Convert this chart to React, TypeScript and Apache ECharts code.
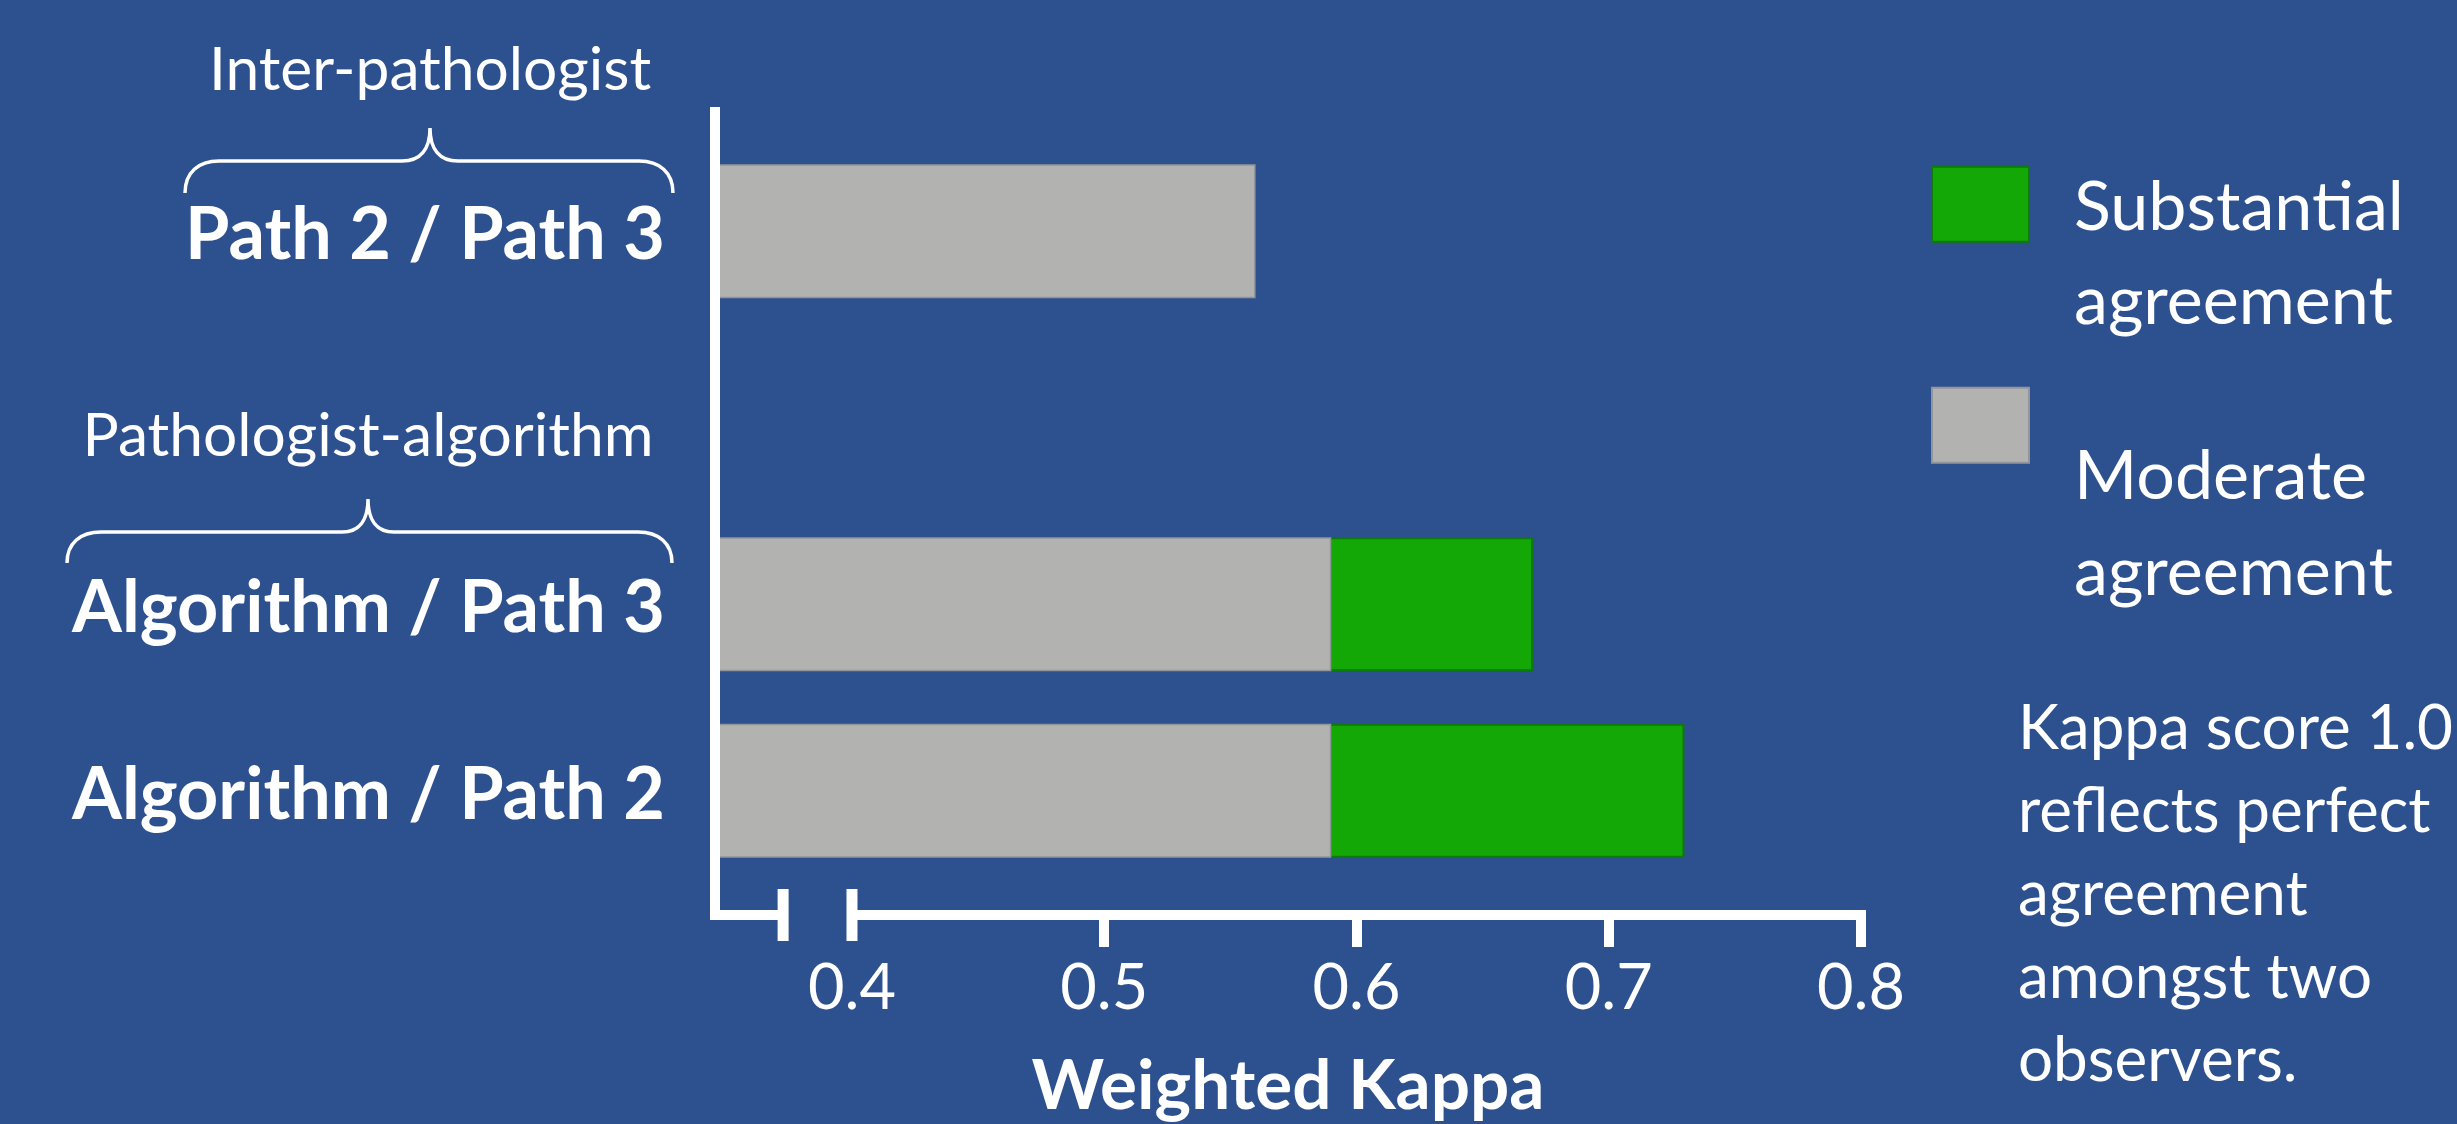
import React, { useEffect, useRef } from 'react';
import * as echarts from 'echarts';

// ---------------- data ----------------
const CATEGORIES = ['Path 2 / Path 3', '', 'Algorithm / Path 3', 'Algorithm / Path 2'];
const MODERATE = [0.56, null, 0.59, 0.59];
const SUBSTANTIAL = [null, null, 0.67, 0.73];
const TICK_VALUES = [0.4, 0.5, 0.6, 0.7, 0.8];
const AXIS_MIN = 0.3457;
const AXIS_MAX = 0.8;
const BREAK_MARK = 0.3727;
const GROUP_LABELS = ['Inter-pathologist', 'Pathologist-algorithm'];
const LEGEND_NAMES = ['Substantial agreement', 'Moderate agreement'];
const NOTE_LINES = ['Kappa score 1.0', 'reflects perfect', 'agreement', 'amongst two', 'observers.'];
const AXIS_NAME = 'Weighted Kappa';

// ---------------- layout / style ----------------
const W = 2457;
const H = 1124;
const BG = '#2D518F';
const GREEN = '#14A806';
const GREEN_BORDER = '#0E7A0A';
const GRAY = '#B2B2B1';
const GRAY_BORDER = '#92959A';
const WHITE = '#FFFFFF';
const FONT = 'Lato';
const K = 0.387; // central-baseline offset (em) above alphabetic baseline

const GRID_LEFT = 715;
const GRID_RIGHT = 596;
const GRID_TOP = 138;
const GRID_BOTTOM = 240;
const AXIS_OFFSET = 31;
const BAR_W = 134;
const LINE_W = 10;

function fit(text: string, weight: string, target: number): number {
  const ctx = document.createElement('canvas').getContext('2d')!;
  ctx.font = `${weight} 100px ${FONT}`;
  return (100 * target) / ctx.measureText(text).width;
}

function braceD(x0: number, x1: number, xc: number, yEnd: number, yMid: number, yPeak: number, r: number, c: number): string {
  return [
    `M${x0},${yEnd}`,
    `C${x0},${yMid + (yEnd - yMid) * 0.35} ${x0 + r * 0.4},${yMid} ${x0 + r},${yMid}`,
    `L${xc - c},${yMid}`,
    `C${xc - c * 0.35},${yMid} ${xc},${yMid - (yMid - yPeak) * 0.35} ${xc},${yPeak}`,
    `C${xc},${yMid - (yMid - yPeak) * 0.35} ${xc + c * 0.35},${yMid} ${xc + c},${yMid}`,
    `L${x1 - r},${yMid}`,
    `C${x1 - r * 0.4},${yMid} ${x1},${yMid + (yEnd - yMid) * 0.35} ${x1},${yEnd}`,
  ].join(' ');
}

echarts.graphic.registerShape('braceInter', echarts.graphic.extendPath(braceD(185, 673, 430, 193, 161, 128, 34, 28), {}));
echarts.graphic.registerShape('braceAlgo', echarts.graphic.extendPath(braceD(67, 672, 368, 563, 532, 499, 34, 26), {}));

export default function App() {
  const ref = useRef<HTMLDivElement>(null);

  useEffect(() => {
    const el = ref.current!;
    const chart = echarts.init(el, null, { renderer: 'svg' });

    const NOTE_X = 2018;
    const LABEL_F = fit('Algorithm / Path 3', 'bold', 593);
    const GROUP_F = (fit(GROUP_LABELS[0], 'normal', 440) + fit(GROUP_LABELS[1], 'normal', 574)) / 2;
    const TICK_F = fit('0.4', 'normal', 88);
    const NAME_F = fit(AXIS_NAME, 'bold', 513);
    const LEG_F = fit('Substantial', 'normal', 330);
    const NOTE_F = Math.min(fit('amongst two', 'normal', 360), fit(NOTE_LINES[0], 'normal', W - 4 - NOTE_X));
    const NOTE_LH = 83;

    const IW = 97;
    const IH = 75;
    // blank leading lines push the two-line label below the icon, as in the reference
    const legendFor = (name: string, iconTop: number, blankLines: number, lineH: number) => {
      const lines = blankLines + 2;
      const boxH = lines * lineH;
      const top = iconTop - Math.max(0, boxH / 2 - IH / 2);
      return {
        data: [name],
        left: 1931,
        top,
        padding: 0,
        icon: 'rect',
        itemWidth: IW,
        itemHeight: IH,
        selectedMode: false,
        formatter: (n: string) => '\n'.repeat(blankLines) + n.replace(' ', '\n'),
        textStyle: {
          color: WHITE,
          fontFamily: FONT,
          fontSize: LEG_F,
          lineHeight: lineH,
          padding: [0, 0, 0, 40],
        },
      };
    };

    const option: any = {
      animation: false,
      backgroundColor: BG,
      grid: {
        left: GRID_LEFT,
        right: GRID_RIGHT,
        top: GRID_TOP,
        bottom: GRID_BOTTOM,
        containLabel: false,
        outerBoundsMode: 'none',
      },
      xAxis: {
        type: 'value',
        min: AXIS_MIN,
        max: AXIS_MAX,
        offset: AXIS_OFFSET,
        axisLine: { show: false },
        axisTick: {
          show: true,
          customValues: TICK_VALUES.slice(1),
          length: 32,
          lineStyle: { color: WHITE, width: LINE_W },
        },
        axisLabel: {
          customValues: TICK_VALUES,
          formatter: (v: number) => v.toFixed(1),
          color: WHITE,
          fontFamily: FONT,
          fontSize: TICK_F,
          margin: 38,
        },
        splitLine: { show: false },
        name: AXIS_NAME,
        nameLocation: 'middle',
        nameGap: 133,
        nameTextStyle: { color: WHITE, fontFamily: FONT, fontWeight: 'bold', fontSize: NAME_F },
      },
      yAxis: {
        type: 'category',
        inverse: true,
        data: CATEGORIES,
        axisLine: { show: false },
        axisTick: { show: false },
        splitLine: { show: false },
        axisLabel: { color: WHITE, fontFamily: FONT, fontWeight: 'bold', fontSize: LABEL_F, margin: 50 },
      },
      legend: [legendFor(LEGEND_NAMES[0], 166.7, 1, 94), legendFor(LEGEND_NAMES[1], 387.7, 2, 96)],
      series: [
        {
          name: LEGEND_NAMES[0],
          type: 'bar',
          data: SUBSTANTIAL,
          barWidth: BAR_W,
          barGap: '-100%',
          itemStyle: { color: GREEN, borderColor: GREEN_BORDER, borderWidth: 2 },
        },
        {
          name: LEGEND_NAMES[1],
          type: 'bar',
          data: MODERATE,
          barWidth: BAR_W,
          barGap: '-100%',
          itemStyle: { color: GRAY, borderColor: GRAY_BORDER, borderWidth: 1.5 },
        },
      ],
    };
    chart.setOption(option);

    const px = (v: number) => chart.convertToPixel({ xAxisIndex: 0 }, v) as number;
    const x0 = px(AXIS_MIN);
    const xb = px(BREAK_MARK);
    const x4 = px(TICK_VALUES[0]);
    const xEnd = px(AXIS_MAX);
    const axisY = H - GRID_BOTTOM + AXIS_OFFSET;
    const lineTop = GRID_TOP - AXIS_OFFSET;

    const textAt = (text: string, x: number, baseline: number, size: number) => ({
      type: 'text',
      x,
      y: baseline - K * size,
      z: 20,
      style: {
        text,
        fill: WHITE,
        fontFamily: FONT,
        fontSize: size,
        align: 'center',
        verticalAlign: 'middle',
      },
    });

    chart.setOption({
      graphic: [
        {
          type: 'polyline',
          z: 20,
          shape: { points: [[x0, lineTop], [x0, axisY], [xb, axisY]] },
          style: { stroke: WHITE, lineWidth: LINE_W, fill: 'none', lineJoin: 'miter' },
        },
        {
          type: 'line',
          z: 20,
          shape: { x1: x4, y1: axisY, x2: xEnd + LINE_W / 2, y2: axisY },
          style: { stroke: WHITE, lineWidth: LINE_W },
        },
        {
          type: 'line',
          z: 20,
          shape: { x1: xb, y1: axisY - 26, x2: xb, y2: axisY + 26 },
          style: { stroke: WHITE, lineWidth: LINE_W + 1 },
        },
        {
          type: 'line',
          z: 20,
          shape: { x1: x4, y1: axisY - 26, x2: x4, y2: axisY + 26 },
          style: { stroke: WHITE, lineWidth: LINE_W + 1 },
        },
        { type: 'braceInter', x: 0, y: 0, z: 20, style: { fill: 'none', stroke: WHITE, lineWidth: 3.5 } },
        { type: 'braceAlgo', x: 0, y: 0, z: 20, style: { fill: 'none', stroke: WHITE, lineWidth: 3.5 } },
        textAt(GROUP_LABELS[0], 430, 90, GROUP_F),
        textAt(GROUP_LABELS[1], 368, 456, GROUP_F),
        {
          type: 'text',
          x: NOTE_X,
          y: 749 - K * NOTE_F - NOTE_LH / 2,
          z: 20,
          style: {
            text: NOTE_LINES.join('\n'),
            fill: WHITE,
            fontFamily: FONT,
            fontSize: NOTE_F,
            lineHeight: NOTE_LH,
            align: 'left',
            verticalAlign: 'top',
          },
        },
      ],
    });

    return () => chart.dispose();
  }, []);

  return <div ref={ref} style={{ position: 'absolute', left: 0, top: 0, width: W, height: H }} />;
}
